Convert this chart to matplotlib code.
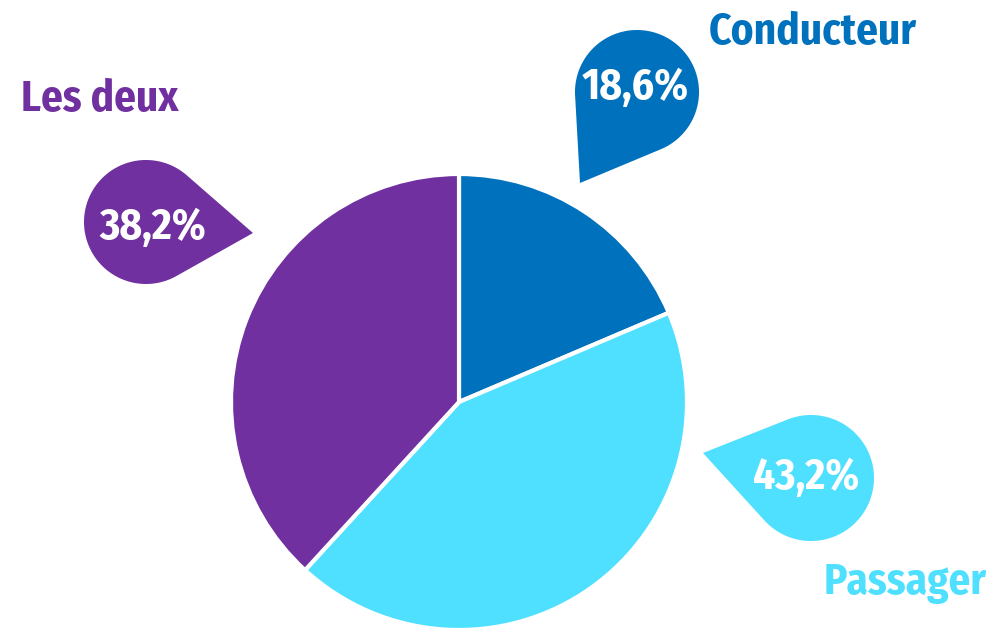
import numpy as np
import matplotlib
matplotlib.use("Agg")
import matplotlib.pyplot as plt
from matplotlib.patches import Polygon
from matplotlib import font_manager

categories = ["Conducteur", "Passager", "Les deux"]
values = [18.6, 43.2, 38.2]
value_labels = ["18,6%", "43,2%", "38,2%"]
colors = ["#0071BC", "#50E0FF", "#7030A0"]

avail = {f.name for f in font_manager.fontManager.ttflist}
fam = "DejaVu Sans"
for cand in ["Fira Sans Condensed", "Roboto Condensed", "Liberation Sans Narrow", "DejaVu Sans Condensed", "Open Sans Condensed"]:
    if cand in avail:
        fam = cand
        break

W, H = 992, 629
fig = plt.figure(figsize=(W / 100, H / 100), dpi=100)
ax = fig.add_axes([0, 0, 1, 1])
ax.set_xlim(0, W)
ax.set_ylim(0, H)
ax.set_aspect("equal")
ax.axis("off")

def Y(y):
    return H - y

ax.pie(values, colors=colors, startangle=90, counterclock=False,
       center=(459, Y(402)), radius=228,
       wedgeprops=dict(edgecolor="white", linewidth=3), frame=True)
ax.set_xlim(0, W)
ax.set_ylim(0, H)
ax.axis("off")

def bubble(cx, cy, r, tx, ty, color):
    cy, ty = Y(cy), Y(ty)
    dx, dy = cx - tx, cy - ty
    d = np.hypot(dx, dy)
    base = np.arctan2(-dy, -dx)  # angle from center to tip
    half = np.arccos(r / d)
    a1 = base + half
    a2 = base - half + 2 * np.pi
    th = np.linspace(a1, a2, 200)
    pts = [(tx, ty)] + [(cx + r * np.cos(t), cy + r * np.sin(t)) for t in th]
    ax.add_patch(Polygon(pts, closed=True, facecolor=color, edgecolor="none", zorder=5))

# bubbles: (center, radius, tip) in image pixels
bubbles = {
    "Conducteur": ((637, 92), 62, (580, 183), (635, 88)),
    "Passager": ((811, 478), 63, (703, 453), (806, 478)),
    "Les deux": ((146, 222), 62, (253, 233), (153, 228)),
}
name_pos = {"Conducteur": (813, 33), "Passager": (905, 583), "Les deux": (100, 100)}

for cat, lab, col in zip(categories, value_labels, colors):
    (cx, cy), r, (tx, ty), (lx, ly) = bubbles[cat]
    bubble(cx, cy, r, tx, ty, col)
    ax.text(lx, Y(ly), lab, color="white", fontsize=31, fontweight="bold",
            family=[fam, "DejaVu Sans"], ha="center", va="center", zorder=6)
    nx, ny = name_pos[cat]
    ax.text(nx, Y(ny), cat, color=col, fontsize=31, fontweight="bold",
            family=[fam, "DejaVu Sans"], ha="center", va="center", zorder=6)

fig.savefig("out.png", dpi=100)
